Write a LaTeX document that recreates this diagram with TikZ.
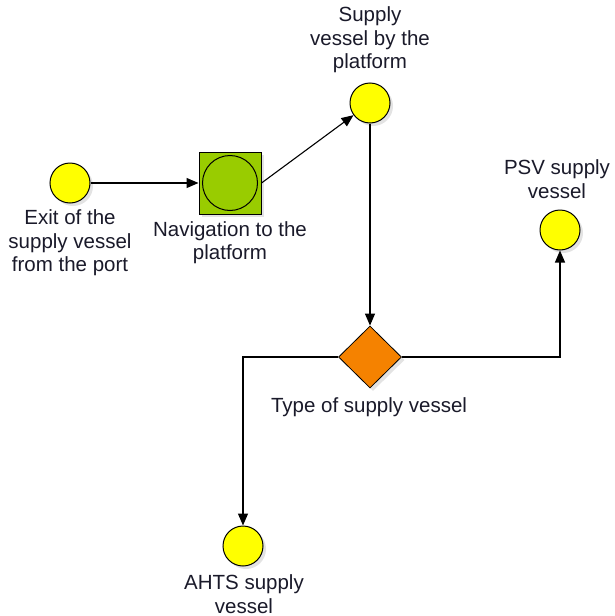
\documentclass[tikz,border=0pt]{standalone}
\usepackage{fontspec}
\setmainfont{Liberation Sans}
\usetikzlibrary{arrows.meta,shapes.geometric,shadows}
\definecolor{evtyellow}{HTML}{FFFF00}
\definecolor{actgreen}{HTML}{99CC00}
\definecolor{decorange}{HTML}{F58200}
\definecolor{txtcol}{HTML}{1A1A2A}
\begin{document}
\begin{tikzpicture}[x=1pt,y=-1pt,
  lbl/.style={font=\fontsize{20.5}{23.5}\selectfont, align=center, inner sep=0pt, text=txtcol},
  sh/.style={drop shadow={shadow xshift=3pt, shadow yshift=-3pt, opacity=0.22, fill=gray}},
  evt/.style={circle, draw=black, fill=evtyellow, minimum size=40pt, inner sep=0pt, line width=1pt, sh},
  act/.style={rectangle, draw=black, fill=actgreen, minimum size=62pt, inner sep=0pt, line width=1pt, sh},
  actin/.style={circle, draw=black, fill=actgreen, minimum size=55pt, inner sep=0pt, line width=1pt},
  dec/.style={diamond, draw=black, fill=decorange, minimum width=63pt, minimum height=62pt, inner sep=0pt, line width=0.8pt, sh},
  conn/.style={draw=black, line width=1.1pt, -{Triangle[length=12pt,width=10pt]}},
]
\useasboundingbox (0,0) rectangle (614,616);
\fill[white] (0,0) rectangle (614,616);

\node[evt] (exit) at (70,183) {};
\node[act] (nav) at (230,183) {};
\node[actin] (navin) at (230,183) {};
\node[evt] (sup) at (370,103) {};
\node[dec] (type) at (370,357) {};
\node[evt] (psv) at (560,230) {};
\node[evt] (ahts) at (243,546) {};

\node[lbl] (exitl) at (70,243) {Exit of the\\supply vessel\\from the port};
\node[lbl] (navl) at (230,242.5) {Navigation to the\\platform};
\node[lbl] (supl) at (370,40) {Supply\\vessel by the\\platform};
\node[lbl] (psvl) at (557,179) {PSV supply\\vessel};
\node[lbl] (typel) at (369,407) {Type of supply vessel};
\node[lbl] (ahtsl) at (244,594) {AHTS supply\\vessel};

\draw[conn] (exit) -- (nav);
\draw[conn] (nav.east) -- (sup);
\draw[conn] (sup) -- (type);
\draw[conn] (type.west) -| (ahts);
\draw[conn] (type.east) -| (psv);
\end{tikzpicture}
\end{document}
